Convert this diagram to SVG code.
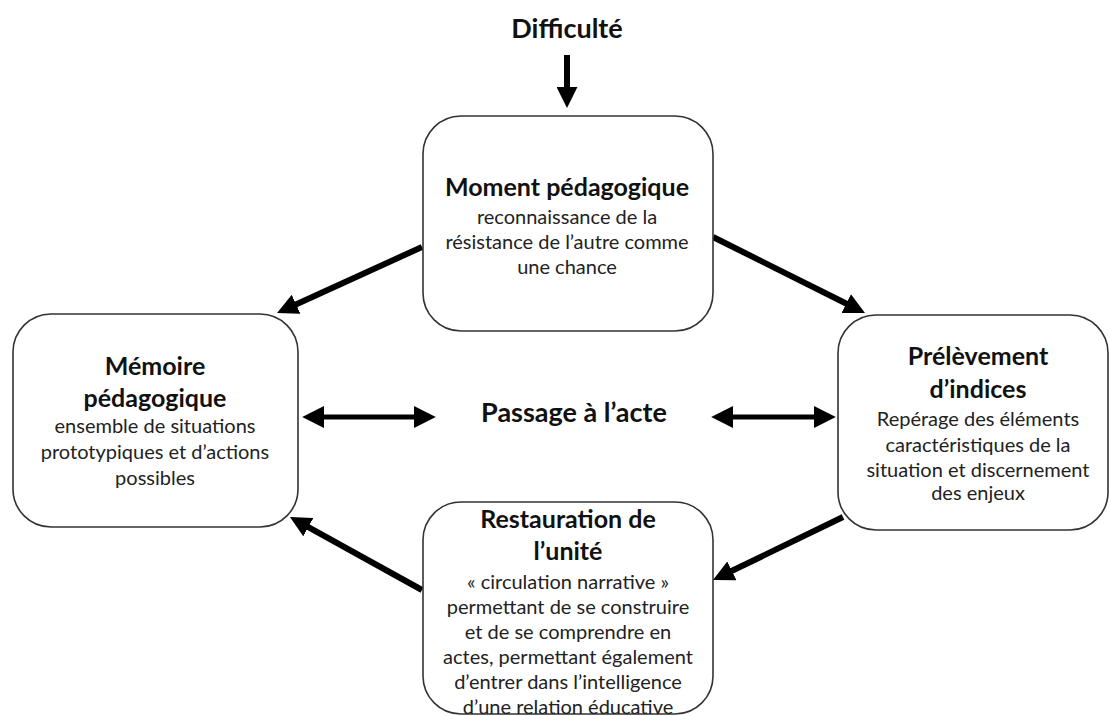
<svg xmlns="http://www.w3.org/2000/svg" width="1110" height="716" viewBox="0 0 1110 716">
<defs>
<style>
.box{fill:#fff;stroke:#333;stroke-width:1.6}
.t{font-family:Lato,"Open Sans","Liberation Sans",sans-serif;font-weight:700;font-size:25px;fill:#111;text-anchor:middle}
.s{font-family:Lato,"Open Sans","Liberation Sans",sans-serif;font-weight:400;font-size:20px;fill:#222;text-anchor:middle}
.c6{stroke:#000;stroke-width:6;fill:none;marker-end:url(#ah)}
.c5{stroke:#000;stroke-width:5;fill:none;marker-end:url(#ah2);marker-start:url(#ah2)}
</style>
<marker id="ah" viewBox="0 0 10 10" refX="1" refY="5" markerWidth="3.5" markerHeight="3.5" orient="auto"><path d="M0,0 L10,5 L0,10 z" fill="#000"/></marker>
<marker id="ah2" viewBox="0 0 10 10" refX="1" refY="5" markerWidth="4.4" markerHeight="4.4" orient="auto-start-reverse"><path d="M0,0 L10,5 L0,10 z" fill="#000"/></marker>
</defs>
<rect width="1110" height="716" fill="#fff"/>

<g id="connectors">
<line class="c6" x1="567" y1="55" x2="567" y2="89"/>
<line class="c6" x1="422" y1="247" x2="294.2" y2="305.2"/>
<line class="c6" x1="713" y1="237" x2="848.1" y2="304.5"/>
<line class="c6" x1="843" y1="517" x2="730" y2="571.8"/>
<line class="c6" x1="422" y1="590" x2="306.5" y2="526.1"/>
<line class="c5" x1="322" y1="417" x2="416" y2="417"/>
<line class="c5" x1="731" y1="417" x2="816" y2="417"/>
</g>

<g id="difficulte">
<text class="t" x="567" y="38" style="font-size:27px">Difficulté</text>
</g>

<g id="passage">
<text class="t" x="574" y="422" style="font-size:27px">Passage à l’acte</text>
</g>

<g id="moment">
<rect class="box" x="423" y="116" width="290" height="215" rx="38"/>
<text class="t" x="567" y="196">Moment pédagogique</text>
<text class="s" x="567" y="224">reconnaissance de la</text>
<text class="s" x="567" y="249">résistance de l’autre comme</text>
<text class="s" x="567" y="274">une chance</text>
</g>

<g id="memoire">
<rect class="box" x="13" y="314" width="285" height="213" rx="38"/>
<text class="t" x="155" y="375">Mémoire</text>
<text class="t" x="155" y="407">pédagogique</text>
<text class="s" x="155" y="433">ensemble de situations</text>
<text class="s" x="155" y="459">prototypiques et d’actions</text>
<text class="s" x="155" y="485">possibles</text>
</g>

<g id="prelevement">
<rect class="box" x="838" y="315" width="270" height="215" rx="38"/>
<text class="t" x="978" y="365">Prélèvement</text>
<text class="t" x="978" y="398">d’indices</text>
<text class="s" x="978" y="426">Repérage des éléments</text>
<text class="s" x="978" y="452">caractéristiques de la</text>
<text class="s" x="978" y="477">situation et discernement</text>
<text class="s" x="978" y="500">des enjeux</text>
</g>

<g id="restauration">
<rect class="box" x="423" y="502" width="290" height="212" rx="38"/>
<text class="t" x="568" y="528">Restauration de</text>
<text class="t" x="568" y="560">l’unité</text>
<text class="s" x="568" y="589">« circulation narrative »</text>
<text class="s" x="568" y="614">permettant de se construire</text>
<text class="s" x="568" y="639">et de se comprendre en</text>
<text class="s" x="568" y="664">actes, permettant également</text>
<text class="s" x="568" y="689">d’entrer dans l’intelligence</text>
<text class="s" x="568" y="714">d’une relation éducative</text>
</g>
</svg>
